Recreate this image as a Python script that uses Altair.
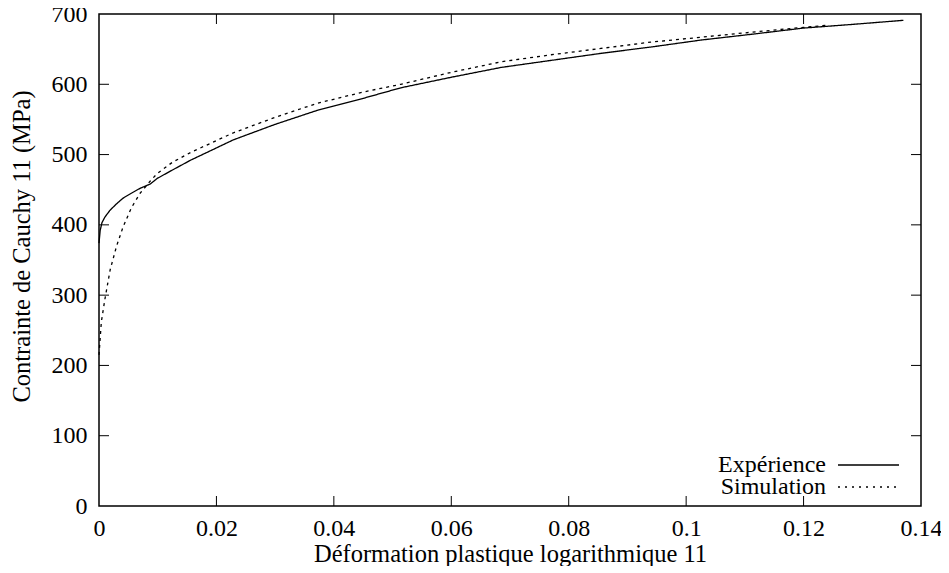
import altair as alt
import pandas as pd

# Data
exp_x = [0.0, 0.0002, 0.0005, 0.001, 0.0019, 0.003, 0.0041, 0.0055, 0.007, 0.0087, 0.0099, 0.0125,
         0.0156, 0.0229, 0.03, 0.0372, 0.045, 0.0514, 0.06, 0.0685, 0.077, 0.0855, 0.094,
         0.1026, 0.111, 0.12, 0.128, 0.137]
exp_y = [374, 392, 403, 411, 421, 430, 438, 445, 452, 458, 466, 478,
         492, 521, 543, 563, 580, 595, 610, 624, 634, 644, 653,
         663, 671, 680, 685, 691]

sim_x = [0.0, 0.0004, 0.001, 0.0019, 0.003, 0.0041, 0.0055, 0.007, 0.0087, 0.0099, 0.0125,
         0.0156, 0.0229, 0.03, 0.0372, 0.045, 0.0514, 0.06, 0.0685, 0.077, 0.0855, 0.094,
         0.1026, 0.111, 0.12, 0.1242]
sim_y = [215, 262, 294, 336, 370, 397, 424, 445, 462, 473, 489,
         503, 531, 553, 573, 589, 600, 617, 632, 642, 651, 660,
         667, 674, 681, 684]

x_ticks = [0.0, 0.02, 0.04, 0.06, 0.08, 0.1, 0.12, 0.14]
y_ticks = [0, 100, 200, 300, 400, 500, 600, 700]

series_names = ["Expérience", "Simulation"]

df = pd.concat([
    pd.DataFrame({"x": exp_x, "y": exp_y, "s": series_names[0]}),
    pd.DataFrame({"x": sim_x, "y": sim_y, "s": series_names[1]}),
])

W, H = 822, 492
FONT = "Liberation Serif"
FS = 24
TFS = 24.5

xscale = alt.Scale(domain=[0, 0.14], nice=False, zero=False)
yscale = alt.Scale(domain=[0, 700], nice=False, zero=False)

x_axis = alt.Axis(values=x_ticks, ticks=False, domain=False, grid=False, labelFlush=False,
                  labelExpr="datum.value == 0 ? '0' : format(datum.value, '.2~f')",
                  labelPadding=10, title="Déformation plastique logarithmique 11",
                  titlePadding=2)
y_axis = alt.Axis(values=y_ticks, ticks=False, domain=False, grid=False, labelFlush=False,
                  labelPadding=12, title="Contrainte de Cauchy 11 (MPa)", titlePadding=17,
                  titleY=232)

X = alt.X("x:Q", scale=xscale, axis=x_axis)
Y = alt.Y("y:Q", scale=yscale, axis=y_axis)

lines = alt.Chart(df).mark_line(color="black", strokeWidth=1.3).encode(
    x=X, y=Y,
    strokeDash=alt.StrokeDash("s:N", scale=alt.Scale(domain=series_names, range=[[1, 0], [3, 4]]), legend=None),
    detail="s:N",
)

xt = pd.DataFrame({"x": x_ticks[1:-1]})
yt = pd.DataFrame({"y": y_ticks[1:-1]})
tick_bottom = alt.Chart(xt).mark_rule(color="black", strokeWidth=1).encode(
    x=X, y=alt.value(H), y2=alt.value(H - 10))
tick_top = alt.Chart(xt).mark_rule(color="black", strokeWidth=1).encode(
    x=X, y=alt.value(0), y2=alt.value(10))
tick_left = alt.Chart(yt).mark_rule(color="black", strokeWidth=1).encode(
    y=Y, x=alt.value(0), x2=alt.value(10))
tick_right = alt.Chart(yt).mark_rule(color="black", strokeWidth=1).encode(
    y=Y, x=alt.value(W), x2=alt.value(W - 10))

leg_layers = []
for name, ypix, dash in [(series_names[0], 451, [1, 0]), (series_names[1], 473, [2, 5])]:
    d = pd.DataFrame({"s": [name]})
    leg_layers.append(alt.Chart(d).mark_text(align="right", baseline="middle", font=FONT, fontSize=FS,
                                             color="black").encode(
        text="s:N", x=alt.value(727), y=alt.value(ypix)))
    leg_layers.append(alt.Chart(d).mark_rule(color="black", strokeWidth=1.3, strokeDash=dash).encode(
        x=alt.value(739), x2=alt.value(800), y=alt.value(ypix)))

chart = alt.layer(lines, tick_bottom, tick_top, tick_left, tick_right, *leg_layers).properties(
    width=W, height=H,
    autosize=alt.AutoSizeParams(type="none"),
    padding={"left": 91, "top": 6, "right": 20, "bottom": 60},
    background="white",
).configure_view(
    stroke="black", strokeWidth=1.5
).configure_axis(
    labelFont=FONT, titleFont=FONT, labelFontSize=FS, titleFontSize=TFS,
    labelColor="black", titleColor="black", titleFontWeight="normal",
)

chart.save("out.html", embed_options={"renderer": "svg", "actions": False})
